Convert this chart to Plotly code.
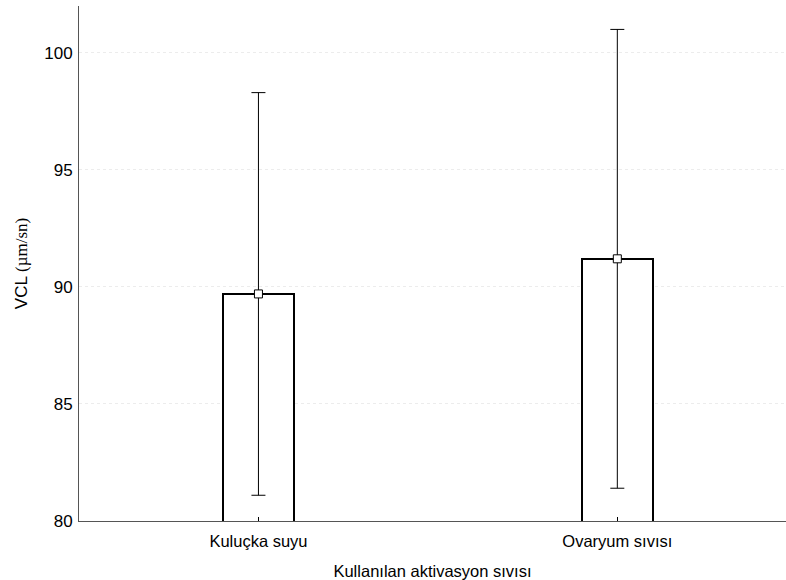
import plotly.graph_objects as go

categories = ["Kuluçka suyu", "Ovaryum sıvısı"]
means = [89.7, 91.2]
errors = [8.6, 9.8]
x_pos = [0, 1]

fig = go.Figure()

fig.add_trace(go.Bar(
    x=x_pos, y=means, width=0.197,
    marker=dict(color="white", line=dict(color="black", width=2)),
    showlegend=False, hoverinfo="skip",
))

fig.add_trace(go.Scatter(
    x=x_pos, y=means, mode="markers",
    marker=dict(symbol="square", size=8, color="white",
                line=dict(color="black", width=1)),
    error_y=dict(type="data", array=errors, visible=True,
                 color="black", thickness=1, width=7),
    showlegend=False,
))

fig.update_layout(
    width=786, height=580,
    margin=dict(l=79, r=0, t=6, b=59),
    plot_bgcolor="white", paper_bgcolor="white",
    font=dict(family="Liberation Sans, Arial, sans-serif", size=16, color="black"),
    bargap=0,
)

fig.update_xaxes(
    range=[-0.5, 1.47],
    tickmode="array", tickvals=x_pos, ticktext=categories,
    showline=True, linecolor="#555555", linewidth=1,
    ticks="inside", ticklen=4, tickcolor="black",
    showgrid=False, zeroline=False,
    tickfont=dict(size=16.5),
    ticklabelstandoff=5,
    title=dict(text="Kullanılan aktivasyon sıvısı", font=dict(size=16.5), standoff=16),
)

fig.update_yaxes(
    range=[80, 102],
    tickvals=[80, 85, 90, 95, 100],
    showline=True, linecolor="#555555", linewidth=1,
    ticks="", showgrid=True, gridcolor="#ececec", griddash="dot", gridwidth=1,
    zeroline=False,
    tickfont=dict(size=17),
    ticklabelstandoff=2,
    title=dict(text="VCL <span style='font-family:Liberation Serif, Times New Roman, serif'>(µm/sn)</span>",
               font=dict(size=17), standoff=12),
)

fig.write_html("out.html", config={"displayModeBar": False},
               post_script="document.body.style.margin='0';document.body.style.overflow='hidden';")
